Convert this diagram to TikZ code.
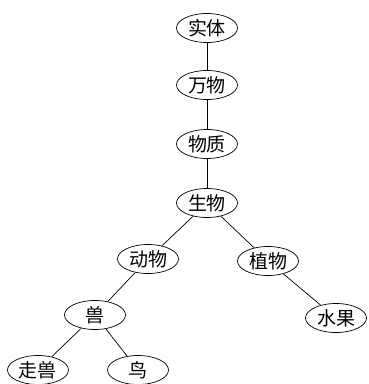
\documentclass[tikz,border=0pt]{standalone}
\usepackage{fontspec}
\newfontfamily\cjk{Noto Sans CJK SC}
\usetikzlibrary{shapes.geometric}
\begin{document}
\begin{tikzpicture}[x=1pt,y=-1pt,
  concept/.style={draw,ellipse,line width=0.7pt,minimum width=61pt,minimum height=29pt,inner sep=0pt,font=\cjk\fontsize{19}{19}\selectfont},
  link/.style={draw,line width=0.7pt}]
\useasboundingbox (0,0) rectangle (368,384);
\node[concept] (st) at (207,28) {实体};
\node[concept] (wanwu) at (207,85) {万物};
\node[concept] (wz) at (207,144) {物质};
\node[concept] (sw) at (207,203) {生物};
\node[concept] (dw) at (148,259) {动物};
\node[concept] (zw) at (268,261) {植物};
\node[concept] (shou) at (95,315) {兽};
\node[concept] (sg) at (336,318) {水果};
\node[concept] (zs) at (38,370) {走兽};
\node[concept] (niao) at (138,370) {鸟};
\draw[link] (st) -- (wanwu);
\draw[link] (wanwu) -- (wz);
\draw[link] (wz) -- (sw);
\draw[link] (sw) -- (dw);
\draw[link] (sw) -- (zw);
\draw[link] (dw) -- (shou);
\draw[link] (zw) -- (sg);
\draw[link] (shou) -- (zs);
\draw[link] (shou) -- (niao);
\end{tikzpicture}
\end{document}
